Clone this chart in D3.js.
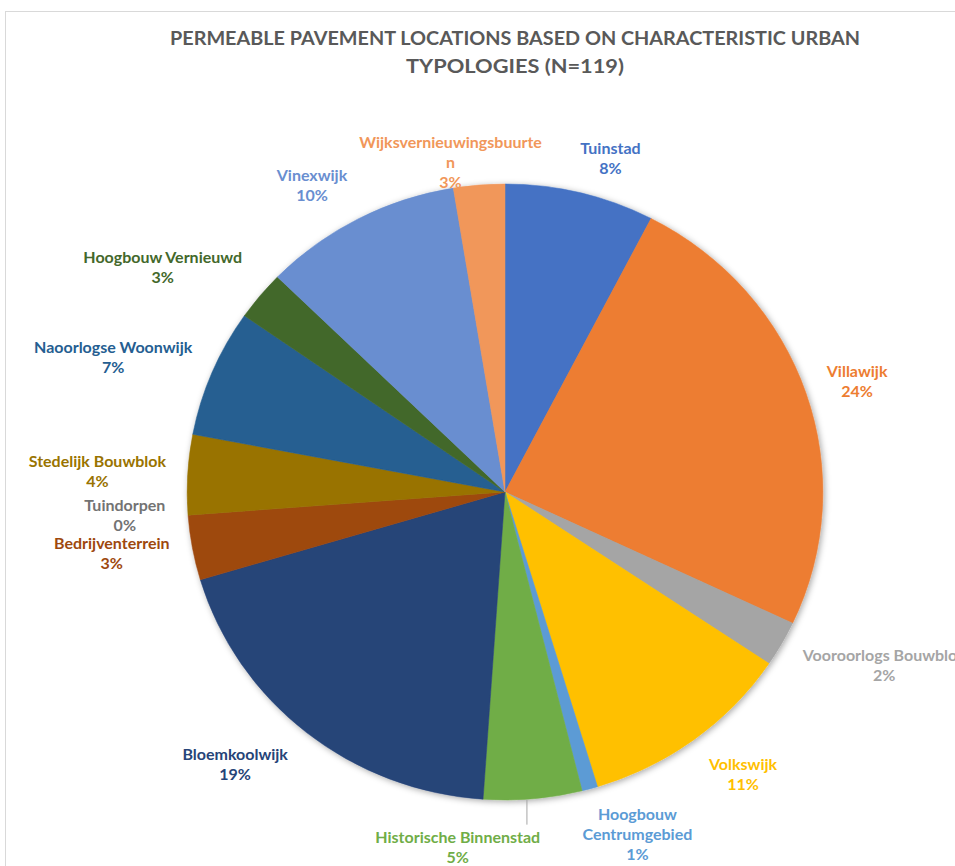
<!DOCTYPE html>
<html>
<head>
<meta charset="utf-8">
<script src="https://cdn.jsdelivr.net/npm/d3@7"></script>
<style>
  html, body { margin: 0; padding: 0; background: #fff; }
  svg { display: block; }
</style>
</head>
<body>
<svg id="chart" width="955" height="866"></svg>
<script>
// Urban typologies (clockwise from 12 o'clock), "\n" marks a label line break
const categories = [
  "Tuinstad", "Villawijk", "Vooroorlogs Bouwblok", "Volkswijk",
  "Hoogbouw\nCentrumgebied", "Historische Binnenstad", "Bloemkoolwijk",
  "Bedrijventerrein", "Tuindorpen", "Stedelijk Bouwblok",
  "Naoorlogse Woonwijk", "Hoogbouw Vernieuwd", "Vinexwijk",
  "Wijksvernieuwingsbuurte\nn"
];
// Share of locations per typology (%)
const shares = [7.6, 24.4, 2.4, 10.9, 0.8, 5.0, 19.3, 3.4, 0, 4.2, 6.7, 2.6, 10.1, 2.6];
const colors = [
  "#4472C4", "#ED7D31", "#A5A5A5", "#FFC000", "#5B9BD5", "#70AD47", "#264478",
  "#9E480E", "#636363", "#997300", "#255E91", "#43682B", "#698ED0", "#F1975A"
];
const titleLines = [
  "PERMEABLE PAVEMENT LOCATIONS BASED ON CHARACTERISTIC URBAN",
  "TYPOLOGIES (N=119)"
];
// Per-label nudges from the outer-arc anchor point (best-fit placement)
const labelNudge = [
  [20, 7], [10, 2], [65, 1], [23, 1], [36, 5], [-79, 7], [-44, -1],
  [-38, -2], [-20, -3], [-47, -1], [-59, 1], [-64, -1], [-26, 4], [-25, 19]
];

const svg = d3.select("#chart");
const W = 955, H = 866;
const cx = 505, cy = 492, r = 308, sx = 1.032;
const labelR = 350;
const font = "Lato, 'Open Sans', 'Liberation Sans', sans-serif";

// chart frame
svg.append("rect")
  .attr("x", 5.5).attr("y", 11.5)
  .attr("width", W + 10).attr("height", H + 10)
  .attr("fill", "#fff").attr("stroke", "#d9d9d9").attr("stroke-width", 1);

// title
const title = svg.append("g");
const titleWidths = [690, 218];
titleLines.forEach((t, i) => {
  title.append("text")
    .attr("x", 515).attr("y", 45 + i * 28)
    .attr("text-anchor", "middle")
    .attr("font-family", font).attr("font-weight", 700)
    .attr("font-size", 18.5).attr("fill", "#595959")
    .attr("textLength", titleWidths[i]).attr("lengthAdjust", "spacingAndGlyphs")
    .text(t);
});

const defs = svg.append("defs");
const shadow = defs.append("filter").attr("id", "soft")
  .attr("x", "-10%").attr("y", "-10%").attr("width", "120%").attr("height", "120%");
shadow.append("feDropShadow")
  .attr("dx", 1.5).attr("dy", 1.5).attr("stdDeviation", 3)
  .attr("flood-color", "#000").attr("flood-opacity", 0.35);

const data = shares.map((v, i) => ({ name: categories[i], value: v, color: colors[i], i }));
const pie = d3.pie().value(d => d.value).sort(null);
const arcs = pie(data);
const arc = d3.arc().innerRadius(0).outerRadius(r);

const g = svg.append("g").attr("transform", `translate(${cx},${cy}) scale(${sx},1)`);
g.append("g").attr("filter", "url(#soft)")
  .selectAll("path")
  .data(arcs.filter(a => a.data.value > 0))
  .join("path")
  .attr("d", arc)
  .attr("fill", d => d.data.color)
  .attr("stroke", d => d.data.color)
  .attr("stroke-width", 0.5);

// data labels
const pt = (ang, rad) => [cx + sx * Math.sin(ang) * rad, cy - Math.cos(ang) * rad];
const lineH = 20;
const labels = svg.append("g");
arcs.forEach((a, i) => {
  const mid = (a.startAngle + a.endAngle) / 2;
  const [bx, by] = pt(mid, labelR);
  const x = bx + labelNudge[i][0];
  const y = by + labelNudge[i][1];
  const pct = Math.round(a.data.value) + "%";
  const lines = a.data.name.split("\n").concat([pct]);
  const y0 = y - (lines.length - 1) * lineH / 2;
  const col = a.data.color === "#636363" ? "#737373" : a.data.color;
  const t = labels.append("text")
    .attr("text-anchor", "middle")
    .attr("font-family", font).attr("font-weight", 700)
    .attr("font-size", 16).attr("fill", col);
  lines.forEach((s, k) => {
    t.append("tspan").attr("x", x).attr("y", y0 + k * lineH + 5.5).text(s);
  });
  // leader line when the label sits far from its slice
  if (a.data.name === "Historische Binnenstad") {
    const [ex, ey] = pt(mid, r);
    labels.append("line")
      .attr("x1", ex - 6).attr("y1", ey + 1)
      .attr("x2", ex - 6).attr("y2", y0 - 13)
      .attr("stroke", "#a6a6a6").attr("stroke-width", 1);
  }
});
</script>
</body>
</html>
